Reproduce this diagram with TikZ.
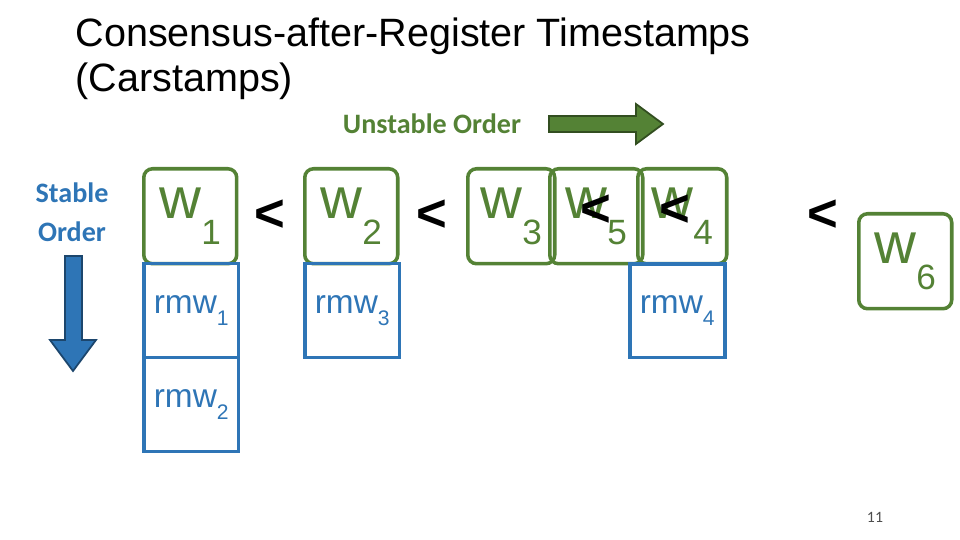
\documentclass[tikz,border=0pt]{standalone}
\usepackage{fontspec}
\setmainfont{Liberation Sans}
\newfontfamily\calib{Carlito}
\usetikzlibrary{positioning}
\usetikzlibrary{arrows.meta}
\definecolor{wgreen}{HTML}{548235}
\definecolor{wblue}{HTML}{2E75B6}
\newcommand{\wsub}[1]{w\raisebox{-0.45em}{\fontsize{20}{20}\selectfont #1}}
\newcommand{\rsub}[1]{rmw\raisebox{-0.35em}{\fontsize{12}{12}\selectfont #1}}

\begin{document}
\begin{tikzpicture}[x=0.02cm, y=-0.02cm, line width = 2pt]

    \tikzset{
        wbox/.style = {draw = wgreen, rounded corners = 5pt, minimum width = 1.86cm, minimum height = 1.9cm, text = wgreen, font = \fontsize{33}{33}\selectfont, inner sep = 0pt, anchor = north west},
        rbox/.style = {draw = wblue, minimum width = 1.9cm, minimum height = 1.88cm, text = wblue, font = \fontsize{19}{19}\selectfont, inner sep = 0pt, anchor = north west},
        lt/.style = {font = \fontsize{30}{30}\selectfont\bfseries}
    }

    \useasboundingbox (0,0) rectangle (960,540);

    % title
    \node (title) [anchor = north west, align = left, font = \fontsize{22.5}{26}\selectfont] at (68,10) {Consensus-after-Register Timestamps\\(Carstamps)};

    % order labels
    \node (unst) [text = wgreen, font = \calib\fontsize{16}{16}\selectfont\bfseries] at (432,124) {Unstable Order};
    \node (stab) [text = wblue, font = \calib\fontsize{16}{22}\selectfont\bfseries, align = center] at (72,212) {Stable\\Order};

    \draw[wgreen!60!black, line width = 1pt, fill = wgreen] (549,116) -- (636,116) -- (636,104) -- (663,124) -- (636,144) -- (636,132) -- (549,132) -- cycle;
    \draw[wblue!60!black, line width = 1pt, fill = wblue] (65,256) -- (82,256) -- (82,340) -- (96,340) -- (73,371) -- (50,340) -- (65,340) -- cycle;

    % write boxes
    \node (w1) [wbox] at (142,167) {\wsub{1}};
    \node (w2) [wbox] at (303,167) {\wsub{2}};
    \node (w3) [wbox, minimum width = 1.74cm] at (466,167) {\wsub{3}};
    \node (w5) [wbox] at (548,167) {\wsub{5}};
    \node (w4) [wbox, minimum width = 1.78cm] at (636,167) {\wsub{4}};
    \node (w6) [wbox] at (857,212) {\wsub{6}};

    % rmw boxes
    \node (r1) [rbox, below = -2pt of w1.south west, anchor = north west] {\rsub{1}};
    \node (r2) [rbox, below = -2pt of r1.south west, anchor = north west] {\rsub{2}};
    \node (r3) [rbox, below = -2pt of w2.south west, anchor = north west] {\rsub{3}};
    \node (r4) [rbox] at (628,262) {\rsub{4}};

    % ordering signs
    \node (lt1) [lt] at (270,216) {<};
    \node (lt2) [lt] at (432,216) {<};
    \node (lt3) [lt] at (596,211) {<};
    \node (lt4) [lt] at (675,211) {<};
    \node (lt5) [lt] at (823,216) {<};

    % page number
    \node (pg) [font = \calib\fontsize{9}{9}\selectfont, text = black!70] at (875,517) {11};

\end{tikzpicture}
\end{document}
